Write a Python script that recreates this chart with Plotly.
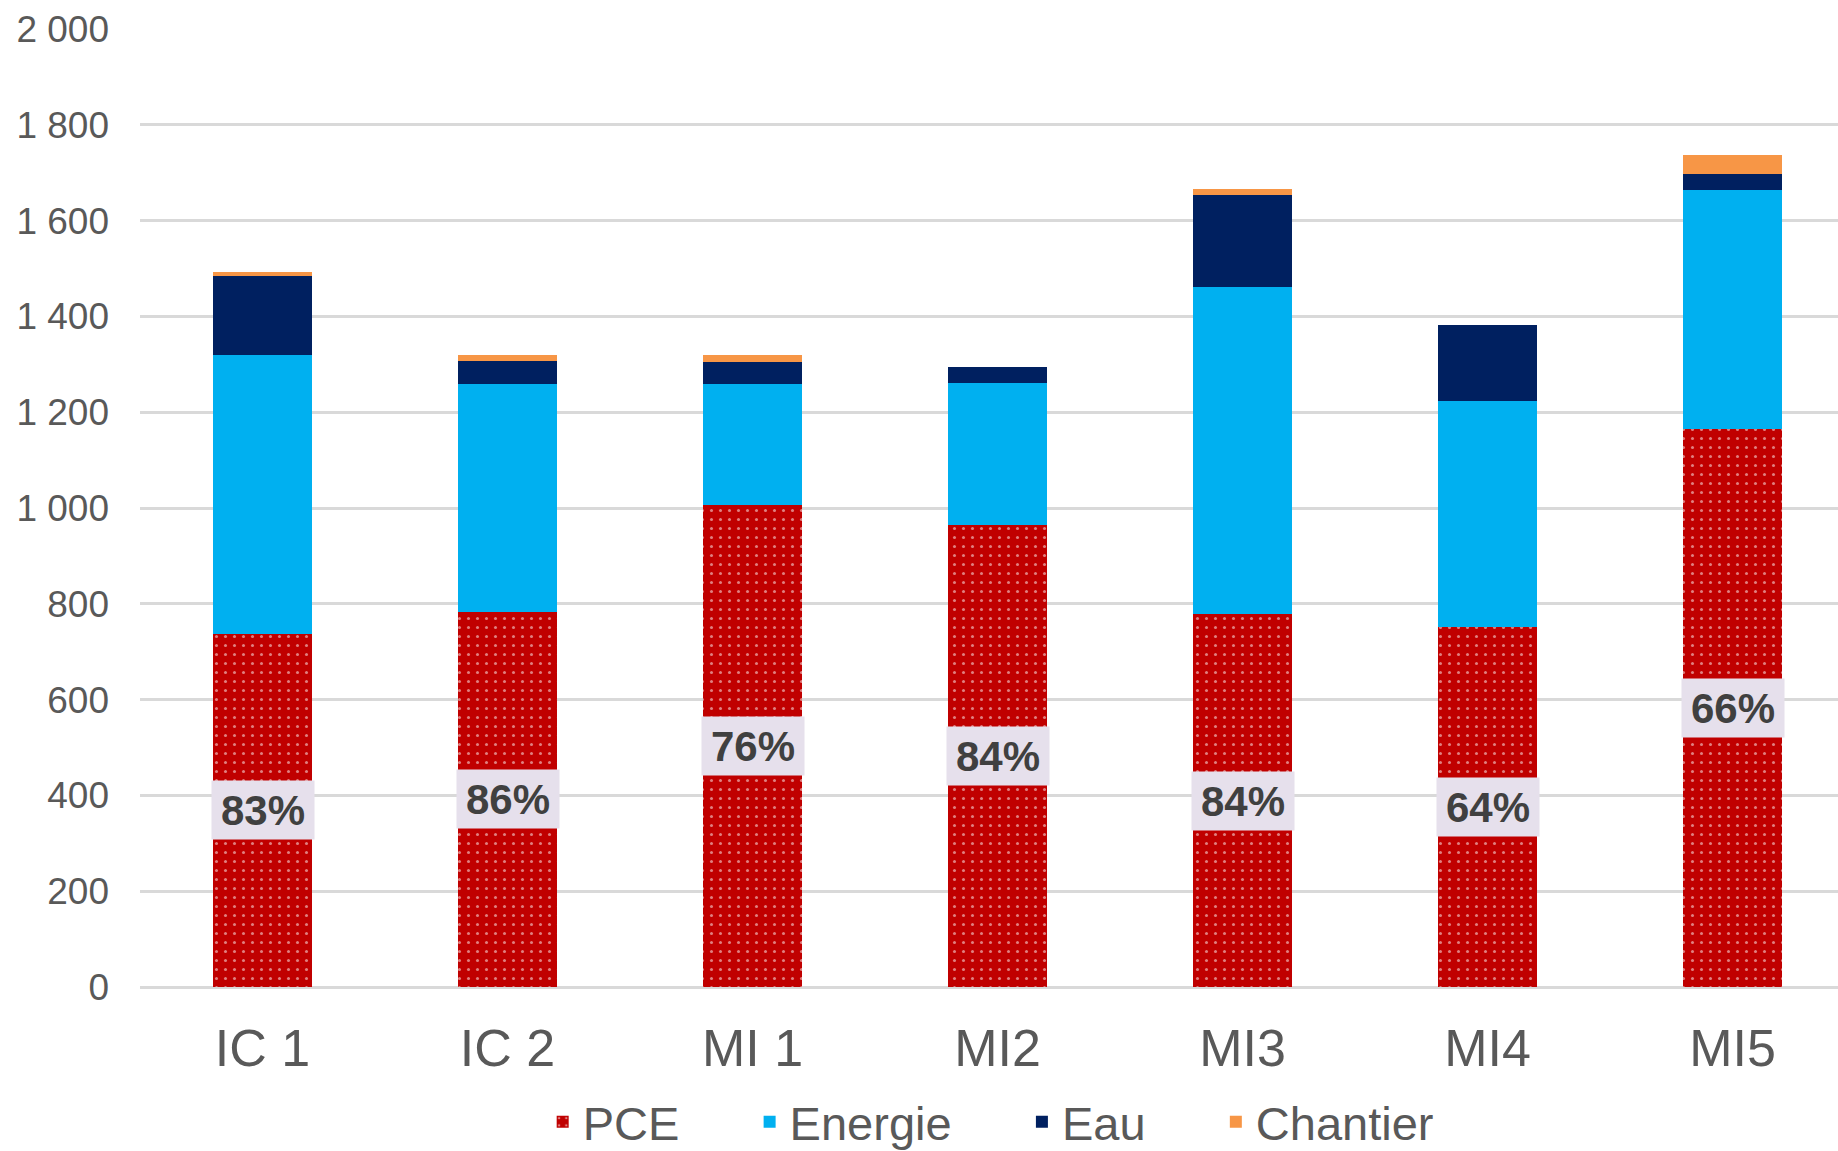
import plotly.graph_objects as go

categories = ["IC 1", "IC 2", "MI 1", "MI2", "MI3", "MI4", "MI5"]
pce = [737, 783, 1007, 965, 778, 752, 1165]
energie = [583, 475, 251, 296, 684, 472, 498]
eau = [164, 48, 47, 34, 192, 158, 34]
chantier = [9, 13, 15, 0, 13, 0, 41]
pct_labels = ["83%", "86%", "76%", "84%", "84%", "64%", "66%"]
series_names = ["PCE", "Energie", "Eau", "Chantier"]

FONT = "Liberation Sans, Arial, sans-serif"
GREY = "#595959"
PAD = "\u00a0" * 5

fig = go.Figure()
fig.add_trace(go.Bar(
    name=series_names[0] + PAD, x=categories, y=pce, width=0.404,
    marker=dict(color="#C00000", line=dict(width=0),
                pattern=dict(shape=".", fgcolor="white", bgcolor="#C00000",
                             size=9, solidity=0.09, fillmode="overlay")),
))
fig.add_trace(go.Bar(name=series_names[1] + PAD, x=categories, y=energie, width=0.404,
                     marker=dict(color="#00B0F0", line=dict(width=0))))
fig.add_trace(go.Bar(name=series_names[2] + PAD, x=categories, y=eau, width=0.404,
                     marker=dict(color="#002060", line=dict(width=0))))
fig.add_trace(go.Bar(name=series_names[3], x=categories, y=chantier, width=0.404,
                     marker=dict(color="#F79646", line=dict(width=0))))

for cat, v, lab in zip(categories, pce, pct_labels):
    fig.add_annotation(x=cat, y=v / 2, text="<b>" + lab + "</b>", showarrow=False,
                       font=dict(family=FONT, size=42, color="#404040"),
                       bgcolor="#E6E0EC", borderpad=4, width=94, height=50)

fig.update_layout(
    width=1838, height=1151,
    margin=dict(l=140, r=0, t=29, b=164, autoexpand=False),
    barmode="stack",
    plot_bgcolor="white", paper_bgcolor="white",
    separators=", ",
    font=dict(family=FONT, color=GREY),
    showlegend=True,
    legend=dict(orientation="h", x=0.539, xanchor="center", xref="container",
                y=0.025, yanchor="middle", yref="container",
                font=dict(family=FONT, size=47, color=GREY),
                traceorder="normal"),
    xaxis=dict(range=[-0.5, 6.43], showgrid=False, showline=False, ticks="",
               tickfont=dict(family=FONT, size=52, color=GREY),
               ticklabelstandoff=26),
    yaxis=dict(range=[0, 2000], dtick=200, tickformat=",d",
               showgrid=True, gridcolor="#D9D9D9", gridwidth=2.5,
               zeroline=True, zerolinecolor="#D9D9D9", zerolinewidth=2.5,
               showline=False, ticks="",
               tickfont=dict(family=FONT, size=37, color=GREY),
               ticklabelstandoff=30),
)

fig.write_html("out.html")
